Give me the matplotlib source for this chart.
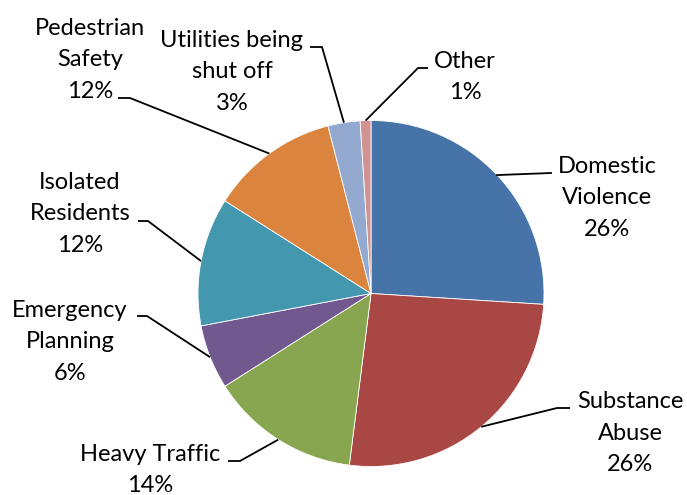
import numpy as np
import matplotlib
matplotlib.use("Agg")
import matplotlib.pyplot as plt

W, H = 687, 495
CX, CY, R = 371, 293.5, 173   # pie centre and radius in pixels

categories = ["Domestic\nViolence", "Substance\nAbuse", "Heavy Traffic", "Emergency\nPlanning",
              "Isolated\nResidents", "Pedestrian\nSafety", "Utilities being\nshut off", "Other"]
shares = [26, 26, 14, 6, 12, 12, 3, 1]
colors = ["#4674A8", "#A94744", "#88A54F", "#71588F", "#4398AF", "#DB843E", "#93A9CF", "#D09392"]

# label centre (px), point where the leader meets the text (px), horizontal elbow length
label_pos = [(607, 198), (630, 433), (150, 470), (70, 342), (80, 214), (90, 60), (232, 72), (465, 77)]
leader_end = [(551, 173), (570, 408), (228, 461), (137, 316), (138, 221), (118, 98), (310, 47), (428, 68)]
elbow_len = [0, -13, 12, 10, 10, 12, 12, -10]


def px(x, y):
    return (x - CX) / R, (CY - y) / R


plt.rcParams['font.family'] = ['Lato', 'DejaVu Sans']
fig = plt.figure(figsize=(W / 100, H / 100), dpi=100)
ax = fig.add_axes([0, 0, 1, 1])
ax.axis("off")

wedges, _ = ax.pie(shares, colors=colors, startangle=90, counterclock=False, radius=1,
                   wedgeprops=dict(edgecolor="white", linewidth=0.6))
ax.set_aspect("auto")
ax.set_xlim(-CX / R, (W - CX) / R)
ax.set_ylim((CY - H) / R, CY / R)

for w, name, v, lp, le, el in zip(wedges, categories, shares, label_pos, leader_end, elbow_len):
    mid = np.deg2rad((w.theta1 + w.theta2) / 2)
    tip = (np.cos(mid), np.sin(mid))
    ex, ey = px(*le)
    if el:
        bx, by = px(le[0] + el, le[1])
        ax.plot([ex, bx, tip[0]], [ey, by, tip[1]], color="black", lw=1.3, solid_capstyle="butt")
    else:
        ax.plot([ex, tip[0]], [ey, tip[1]], color="black", lw=1.3)
    tx, ty = px(*lp)
    ax.text(tx, ty, f"{name}\n{v}%", ha="center", va="center", fontsize=17,
            linespacing=1.6, color="black")

fig.savefig("out.png", dpi=100)
